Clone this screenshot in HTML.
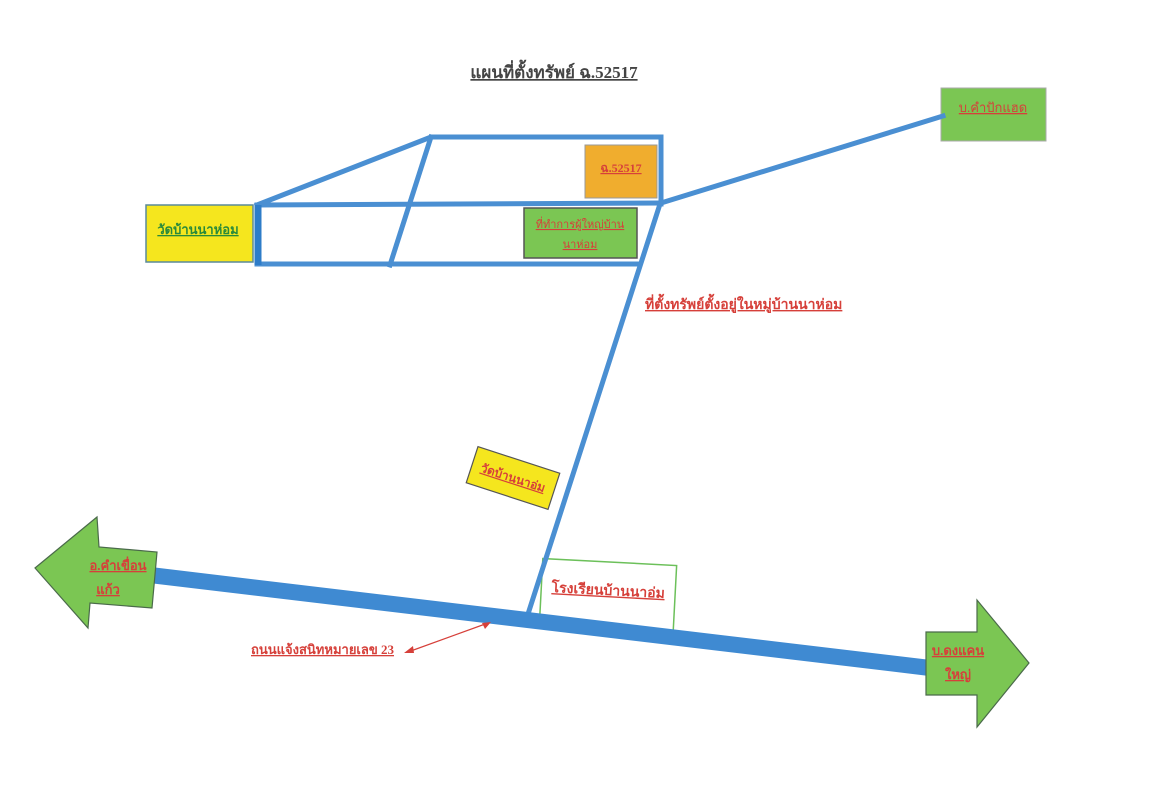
<!DOCTYPE html>
<html><head><meta charset="utf-8"><style>
html,body{margin:0;padding:0;background:#fff;}
svg{display:block;}
text{font-family:"Liberation Serif","Noto Serif CJK SC","Noto Sans CJK SC",serif;text-decoration:underline;}
</style></head><body>
<svg width="1167" height="800" viewBox="0 0 1167 800" xmlns="http://www.w3.org/2000/svg">
<rect width="1167" height="800" fill="#fff"/>
<text x="554" y="78" font-size="17" fill="#444" text-anchor="middle" font-weight="bold">แผนที่ตั้งทรัพย์ ฉ.52517</text>

<rect x="585" y="145" width="72" height="53" fill="#f0ad2e" stroke="#999" stroke-width="1"/>
<text x="621" y="172" font-size="12" fill="#d6403a" text-anchor="middle" font-weight="bold">ฉ.52517</text>
<rect x="524" y="208" width="113" height="50" fill="#7bc653" stroke="#555" stroke-width="1.5"/>
<text x="580" y="228" font-size="11" fill="#d6403a" text-anchor="middle">ที่ทำการผู้ใหญ่บ้าน</text>
<text x="580" y="248" font-size="11" fill="#d6403a" text-anchor="middle">นาห่อม</text>
<rect x="146" y="205" width="107" height="57" fill="#f5e61e" stroke="#5a8a9a" stroke-width="1.5"/>
<text x="198" y="234" font-size="13" fill="#2a8a3a" text-anchor="middle" font-weight="bold">วัดบ้านนาห่อม</text>
<rect x="941" y="88" width="105" height="53" fill="#7bc653" stroke="#aaa" stroke-width="1"/>
<text x="993" y="112" font-size="13" fill="#d6403a" text-anchor="middle">บ.คำปักแฮด</text>

<!-- school -->
<g transform="translate(608,595) rotate(3)">
<rect x="-67" y="-33" width="134" height="66" fill="#fff" stroke="#6cc05a" stroke-width="1.5"/>
<text x="0" y="0" font-size="14" fill="#d6403a" text-anchor="middle" font-weight="bold">โรงเรียนบ้านนาอ่ม</text>
</g>

<g stroke="#4a8fd2" stroke-width="5" fill="none" stroke-linecap="square">
<polyline points="257,205 431,137 661,137 661,204"/>
<line x1="257" y1="205" x2="661" y2="203"/>
<line x1="257" y1="264" x2="638" y2="264"/>
<line x1="431" y1="137" x2="390" y2="265"/>
<line x1="661" y1="203" x2="943" y2="116"/>
<line x1="660" y1="204" x2="528" y2="614"/>
</g>
<line x1="258" y1="205" x2="258" y2="265" stroke="#2e7cc8" stroke-width="7"/>

<line x1="150" y1="575" x2="930" y2="668" stroke="#3f8ad2" stroke-width="16"/>

<g transform="translate(513,478) rotate(18)">
<rect x="-43" y="-19" width="86" height="38" fill="#f5e61e" stroke="#555" stroke-width="1.2"/>
<text x="0" y="4" font-size="12" fill="#d6403a" text-anchor="middle" font-weight="bold">วัดบ้านนาอ่ม</text>
</g>

<text x="645" y="309" font-size="14" fill="#d6403a" font-weight="bold">ที่ตั้งทรัพย์ตั้งอยู่ในหมู่บ้านนาห่อม</text>

<polygon points="35,568 97,517 99,547 157,552 152,608 90,603 88,628" fill="#7bc653" stroke="#4a6a4a" stroke-width="1.2"/>
<text x="118" y="570" font-size="13" fill="#d6403a" text-anchor="middle" font-weight="bold">อ.คำเขื่อน</text>
<text x="108" y="594" font-size="13" fill="#d6403a" text-anchor="middle" font-weight="bold">แก้ว</text>

<polygon points="926,632 977,632 977,600 1029,663 977,727 977,695 926,695" fill="#7bc653" stroke="#4a6a4a" stroke-width="1.2"/>
<text x="958" y="655" font-size="13" fill="#d6403a" text-anchor="middle" font-weight="bold">บ.ดงแคน</text>
<text x="958" y="679" font-size="13" fill="#d6403a" text-anchor="middle" font-weight="bold">ใหญ่</text>

<line x1="408" y1="652" x2="488" y2="623" stroke="#d6403a" stroke-width="1.2"/>
<polygon points="404,653 413,646 414,653" fill="#d6403a"/>
<polygon points="491,622 482,623 485,629" fill="#d6403a"/>
<text x="251" y="654" font-size="13" fill="#d6403a" font-weight="bold">ถนนแจ้งสนิทหมายเลข 23</text>
</svg>
</body></html>
